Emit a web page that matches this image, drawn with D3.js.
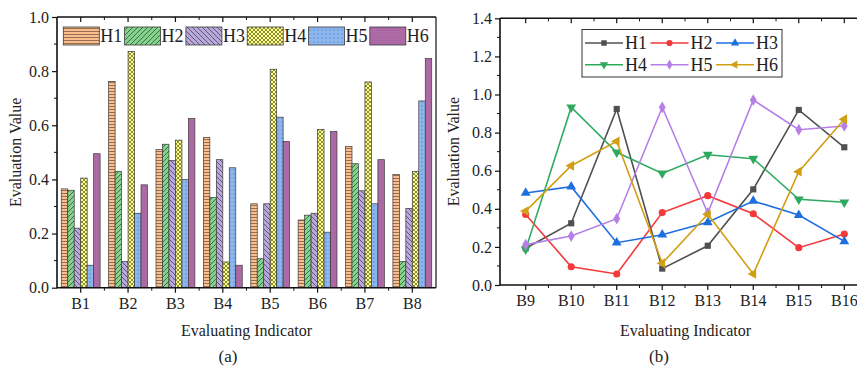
<!DOCTYPE html>
<html><head><meta charset="utf-8">
<script src="https://cdn.jsdelivr.net/npm/d3@7/dist/d3.min.js"></script>
<style>
body{margin:0;background:#fff;}
</style></head>
<body><svg id="c" width="857" height="368"></svg>
<script>
// ---------- data ----------
const barCats = ["B1","B2","B3","B4","B5","B6","B7","B8"];
const seriesNames = ["H1","H2","H3","H4","H5","H6"];
const barH1 = [0.365,0.762,0.510,0.555,0.310,0.250,0.522,0.418];
const barH2 = [0.360,0.430,0.530,0.333,0.107,0.268,0.458,0.097];
const barH3 = [0.220,0.097,0.470,0.473,0.310,0.275,0.358,0.293];
const barH4 = [0.405,0.873,0.545,0.095,0.807,0.585,0.760,0.430];
const barH5 = [0.083,0.275,0.400,0.443,0.630,0.205,0.310,0.690];
const barH6 = [0.495,0.380,0.625,0.083,0.540,0.577,0.473,0.847];
const lineCats = ["B9","B10","B11","B12","B13","B14","B15","B16"];
const lineH1 = [0.193,0.324,0.924,0.086,0.206,0.502,0.919,0.723];
const lineH2 = [0.370,0.096,0.058,0.380,0.469,0.374,0.196,0.268];
const lineH3 = [0.483,0.516,0.222,0.264,0.329,0.441,0.367,0.229];
const lineH4 = [0.187,0.933,0.697,0.586,0.684,0.663,0.450,0.434];
const lineH5 = [0.212,0.257,0.348,0.933,0.378,0.971,0.815,0.835];
const lineH6 = [0.388,0.626,0.754,0.114,0.371,0.058,0.595,0.870];
const leftTicks = [0,0.2,0.4,0.6,0.8,1.0];
const rightTicks = [0,0.2,0.4,0.6,0.8,1.0,1.2,1.4];

const barSeries = [barH1,barH2,barH3,barH4,barH5,barH6];
const lineSeries = [lineH1,lineH2,lineH3,lineH4,lineH5,lineH6];

const FF = '"Liberation Serif"';
const svg = d3.select("#c");
const defs = svg.append("defs");
const FONT = 16;

// ---------- patterns ----------
function pat(id,w,h,bg,draw){
  const p = defs.append("pattern").attr("id",id).attr("patternUnits","userSpaceOnUse")
    .attr("width",w).attr("height",h);
  p.append("rect").attr("width",w).attr("height",h).attr("fill",bg);
  draw(p);
}
pat("p1",4,3,"#fbbf8e",p=>p.append("path").attr("d","M0,2 L1,1 L2,2 L3,1 L4,2").attr("stroke","#6b4a36").attr("stroke-width",0.7).attr("fill","none"));
pat("p2",5,5,"#84d28b",p=>p.append("path").attr("d","M-1,6 L6,-1 M-1,1 L1,-1 M4,6 L6,4").attr("stroke","#2f5534").attr("stroke-width",0.8));
pat("p3",5,5,"#b9a8da",p=>p.append("path").attr("d","M-1,-1 L6,6 M4,-1 L6,1 M-1,4 L1,6").attr("stroke","#4b3f63").attr("stroke-width",0.8));
pat("p4",4,4,"#ffff88",p=>p.append("path").attr("d","M0,0 L4,4 M4,0 L0,4").attr("stroke","#5a5a20").attr("stroke-width",0.7));
pat("p5",4,4,"#8cb6f0",p=>p.append("circle").attr("cx",2).attr("cy",2).attr("r",0.5).attr("fill","#2c4a7a"));
pat("p6",2,2,"#9c5494",p=>p.append("circle").attr("cx",1).attr("cy",1).attr("r",0.5).attr("fill","#f4c4ee"));
const fills = ["url(#p1)","url(#p2)","url(#p3)","url(#p4)","url(#p5)","url(#p6)"];

function txt(g){ return g.append("text").style("font-family",FF).attr("fill","#222"); }

// ---------- left chart ----------
const L = {x0:57,x1:436,y0:17,y1:287.7};
const xL = d3.scaleBand().domain(barCats).range([L.x0,L.x1]).paddingInner(0.18).paddingOuter(0.09);
const xS = d3.scaleBand().domain(seriesNames).range([0,xL.bandwidth()]);
const yL = d3.scaleLinear().domain([0,1]).range([L.y1,L.y0]);
const gL = svg.append("g");

barCats.forEach((c,i)=>{
  seriesNames.forEach((s,j)=>{
    const v = barSeries[j][i];
    gL.append("rect").attr("x",xL(c)+xS(s)).attr("y",yL(v))
      .attr("width",xS.bandwidth()).attr("height",yL(0)-yL(v))
      .attr("fill",fills[j]).attr("stroke","#3a3a3a").attr("stroke-width",0.7);
  });
});

function frame(g,x0,x1,y0,y1){
  g.append("path").attr("d",`M${x0},${y0} L${x1},${y0} M${x0},${y0} L${x0},${y1} L${x1},${y1}`)
    .attr("stroke","#111").attr("stroke-width",1.6).attr("fill","none");
}
frame(gL,L.x0,L.x1,L.y0,L.y1);
gL.append("line").attr("x1",L.x1).attr("x2",L.x1).attr("y1",L.y0).attr("y2",L.y1).attr("stroke","#111").attr("stroke-width",1.2);

// left y axis
const yAxL = d3.axisLeft(yL).tickValues(leftTicks).tickFormat(d3.format(".1f")).tickSize(5).tickPadding(3);
const ga = gL.append("g").attr("transform",`translate(${L.x0},0)`).call(yAxL);
ga.select(".domain").remove();
ga.selectAll("line").attr("stroke","#111").attr("stroke-width",1.2);
ga.selectAll("text").attr("font-size",FONT).style("font-family",FF).attr("fill","#222");
d3.range(0.1,1,0.2).forEach(v=>gL.append("line").attr("x1",L.x0-3).attr("x2",L.x0).attr("y1",yL(v)).attr("y2",yL(v)).attr("stroke","#111"));
barCats.forEach(c=>{
  const cx = xL(c)+xL.bandwidth()/2;
  gL.append("line").attr("x1",cx).attr("x2",cx).attr("y1",L.y1).attr("y2",L.y1+5).attr("stroke","#111").attr("stroke-width",1.2);
  gL.append("line").attr("x1",cx).attr("x2",cx).attr("y1",L.y0).attr("y2",L.y0+5).attr("stroke","#111").attr("stroke-width",1.2);
  txt(gL).attr("x",cx).attr("y",L.y1+21).attr("text-anchor","middle").attr("font-size",FONT).text(c);
});
d3.range(1,8).forEach(k=>{
  const bx = L.x0 + k*xL.step();
  gL.append("line").attr("x1",bx).attr("x2",bx).attr("y1",L.y1).attr("y2",L.y1+3).attr("stroke","#111");
  gL.append("line").attr("x1",bx).attr("x2",bx).attr("y1",L.y0).attr("y2",L.y0+3).attr("stroke","#111");
});
txt(gL).attr("transform",`translate(21,${(L.y0+L.y1)/2}) rotate(-90)`).attr("text-anchor","middle").attr("font-size",FONT).text("Evaluation Value");
txt(gL).attr("x",(L.x0+L.x1)/2).attr("y",336).attr("text-anchor","middle").attr("font-size",FONT).text("Evaluating Indicator");
txt(gL).attr("x",228).attr("y",362).attr("text-anchor","middle").attr("font-size",17).text("(a)");

// left legend
seriesNames.forEach((s,j)=>{
  const lx = 63.3 + j*61.3;
  gL.append("rect").attr("x",lx).attr("y",27).attr("width",36).attr("height",18)
    .attr("fill",fills[j]).attr("stroke","#3a3a3a").attr("stroke-width",0.8);
  txt(gL).attr("x",lx+37).attr("y",42).attr("font-size",18).text(s);
});

// ---------- right chart ----------
const R = {x0:500,x1:870,y0:18.3,y1:285};
const xR = d3.scalePoint().domain(lineCats).range([525.7,844.3]);
const yR = d3.scaleLinear().domain([0,1.4]).range([R.y1,R.y0]);
const gR = svg.append("g");
const colors = ["#505050","#f23a3a","#1e6ee0","#2eaa5e","#b57fe6","#d29f14"];

frame(gR,R.x0,R.x1,R.y0,R.y1);
const yAxR = d3.axisLeft(yR).tickValues(rightTicks).tickFormat(d3.format(".1f")).tickSize(5).tickPadding(3);
const gb = gR.append("g").attr("transform",`translate(${R.x0},0)`).call(yAxR);
gb.select(".domain").remove();
gb.selectAll("line").attr("stroke","#111").attr("stroke-width",1.2);
gb.selectAll("text").attr("font-size",FONT).style("font-family",FF).attr("fill","#222");
d3.range(0.1,1.4,0.2).forEach(v=>gR.append("line").attr("x1",R.x0-3).attr("x2",R.x0).attr("y1",yR(v)).attr("y2",yR(v)).attr("stroke","#111"));
const stepR = xR.step();
lineCats.forEach(c=>{
  const cx = xR(c);
  gR.append("line").attr("x1",cx).attr("x2",cx).attr("y1",R.y1).attr("y2",R.y1+5).attr("stroke","#111").attr("stroke-width",1.2);
  gR.append("line").attr("x1",cx).attr("x2",cx).attr("y1",R.y0).attr("y2",R.y0+5).attr("stroke","#111").attr("stroke-width",1.2);
  txt(gR).attr("x",cx).attr("y",R.y1+21).attr("text-anchor","middle").attr("font-size",FONT).text(c);
});
lineCats.slice(0,7).forEach(c=>{
  const bx = xR(c)+stepR/2;
  gR.append("line").attr("x1",bx).attr("x2",bx).attr("y1",R.y1).attr("y2",R.y1+3).attr("stroke","#111");
  gR.append("line").attr("x1",bx).attr("x2",bx).attr("y1",R.y0).attr("y2",R.y0+3).attr("stroke","#111");
});
txt(gR).attr("transform",`translate(459,${(R.y0+R.y1)/2}) rotate(-90)`).attr("text-anchor","middle").attr("font-size",FONT).text("Evaluation Value");
txt(gR).attr("x",(525.7+844.3)/2+0.5).attr("y",336).attr("text-anchor","middle").attr("font-size",FONT).text("Evaluating Indicator");
txt(gR).attr("x",659).attr("y",362).attr("text-anchor","middle").attr("font-size",17).text("(b)");

function marker(g,j,x,y,sz){
  const types=[d3.symbolSquare,d3.symbolCircle,d3.symbolTriangle,d3.symbolTriangle,d3.symbolDiamond,d3.symbolTriangle];
  const rots=[0,0,0,180,0,-90];
  const sizes=[38,40,42,42,40,42];
  g.append("path").attr("d",d3.symbol().type(types[j]).size(sz||sizes[j])())
    .attr("transform",`translate(${x},${y}) rotate(${rots[j]})`).attr("fill",colors[j]);
}
const line = d3.line().x((d,i)=>xR(lineCats[i])).y(d=>yR(d));
lineSeries.forEach((vals,j)=>{
  gR.append("path").attr("d",line(vals)).attr("fill","none").attr("stroke",colors[j]).attr("stroke-width",1.6);
  vals.forEach((v,i)=>marker(gR,j,xR(lineCats[i]),yR(v)));
});

// right legend
gR.append("rect").attr("x",582).attr("y",29.5).attr("width",200).attr("height",47.5)
  .attr("fill","#fff").attr("stroke","#333").attr("stroke-width",1);
seriesNames.forEach((s,j)=>{
  const col = j%3, row = Math.floor(j/3);
  const lx = 585 + col*65.5, ly = 43 + row*21.7;
  gR.append("line").attr("x1",lx).attr("x2",lx+38).attr("y1",ly).attr("y2",ly).attr("stroke",colors[j]).attr("stroke-width",1.6);
  marker(gR,j,lx+19,ly,30);
  txt(gR).attr("x",lx+40).attr("y",ly+6).attr("font-size",18).text(s);
});
</script></body></html>
